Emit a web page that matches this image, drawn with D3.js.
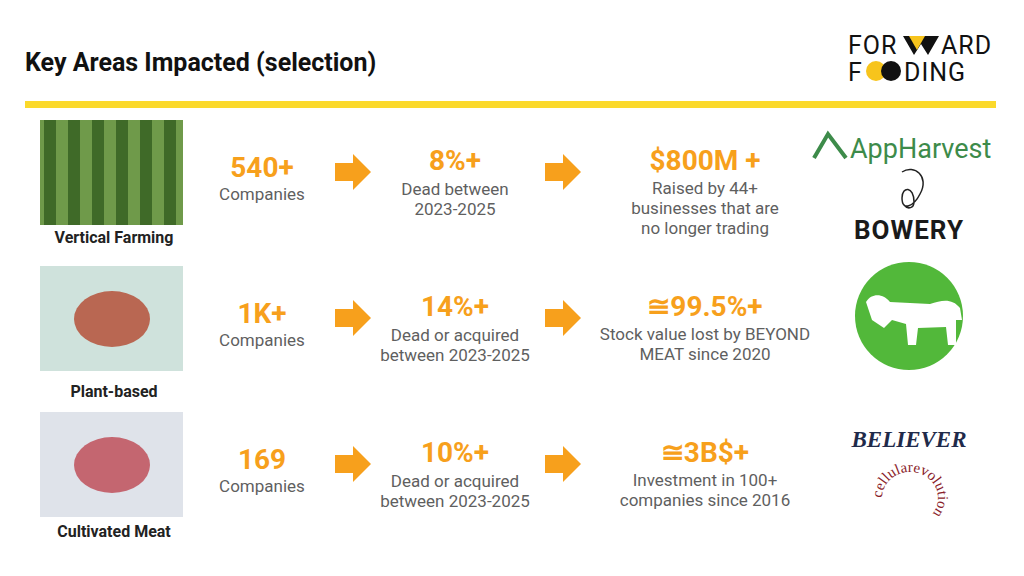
<!DOCTYPE html>
<html><head><meta charset="utf-8">
<script src="https://cdn.jsdelivr.net/npm/d3@7"></script>
<style>body{margin:0;background:#fff}svg{font-family:Roboto,"Noto Sans",sans-serif}</style>
</head><body>
<script>
var categories = ["Vertical Farming", "Plant-based", "Cultivated Meat"];
var columns = ["count", "dead", "impact"];
var companyCounts = ["540+", "1K+", "169"];
var deadShares = ["8%+", "14%+", "10%+"];
var deadLabels = [["Dead between", "2023-2025"], ["Dead or acquired", "between 2023-2025"], ["Dead or acquired", "between 2023-2025"]];
var impactValues = ["$800M +", "≅99.5%+", "≅3B$+"];
var impactLabels = [["Raised by 44+", "businesses that are", "no longer trading"], ["Stock value lost by BEYOND", "MEAT since 2020"], ["Investment in 100+", "companies since 2016"]];
var photoColors = [["#6f9a4a", "#3f6a28"], ["#cfe2dc", "#b5513a"], ["#dfe3ea", "#c0505a"]];

var orange = "#f7a01c", gray = "#5f5f5f";
var svg = d3.select("body").append("svg").attr("width", 1024).attr("height", 576);

svg.append("text").attr("x", 25).attr("y", 71).attr("font-size", 25).attr("font-weight", 700).attr("fill", "#111").text("Key Areas Impacted (selection)");
svg.append("rect").attr("x", 25).attr("y", 101).attr("width", 971).attr("height", 7).attr("fill", "#fbd92b");

// Forward Fooding logo
var logo = svg.append("g").attr("font-size", 25).attr("fill", "#111").attr("letter-spacing", 1);
logo.append("text").attr("x", 848).attr("y", 54).text("FOR");
logo.append("path").attr("d", "M903,36 L939,36 L928,55 L921,44 L914,55 Z").attr("fill", "#111");
logo.append("path").attr("d", "M909,36 L925,36 L917,50 Z").attr("fill", "#f7c41c");
logo.append("text").attr("x", 941).attr("y", 54).text("ARD");
logo.append("text").attr("x", 848).attr("y", 81).text("F");
logo.append("circle").attr("cx", 876).attr("cy", 71).attr("r", 10).attr("fill", "#f7c41c");
logo.append("circle").attr("cx", 891).attr("cy", 71).attr("r", 10).attr("fill", "#111");
logo.append("text").attr("x", 904).attr("y", 81).text("DING");

var y = d3.scalePoint().domain(categories).range([178, 470]);
var x = d3.scaleOrdinal().domain(columns).range([262, 455, 705]);

var rows = svg.selectAll("g.row").data(categories).enter().append("g").attr("class", "row")
  .attr("transform", function(d) { return "translate(0," + y(d) + ")"; });

rows.append("rect").attr("x", 40).attr("y", -58).attr("width", 143).attr("height", 105)
  .attr("fill", function(d, i) { return photoColors[i][0]; });
rows.filter(function(d, i) { return i === 0; }).selectAll("rect.stripe").data(d3.range(6)).enter().append("rect")
  .attr("x", function(k) { return 44 + k * 24; }).attr("y", -58).attr("width", 12).attr("height", 105).attr("fill", "#3f6a28");
rows.filter(function(d, i) { return i > 0; }).append("ellipse").attr("cx", 112).attr("cy", -5).attr("rx", 38).attr("ry", 28)
  .attr("fill", function(d, i) { return photoColors[i + 1][1]; }).attr("opacity", 0.85);
rows.append("text").attr("x", 114).attr("y", function(d, i) { return [65, 73, 67][i]; })
  .attr("text-anchor", "middle").attr("font-size", 16).attr("font-weight", 700).attr("fill", "#222").text(function(d) { return d; });

function bigNum(sel, col, vals, yb) {
  sel.append("text").attr("x", x(col)).attr("y", yb).attr("text-anchor", "middle")
    .attr("font-size", 28).attr("font-weight", 700).attr("fill", orange).text(function(d, i) { return vals[i]; });
}
function lines(sel, col, vals, y0) {
  sel.each(function(d, i) {
    d3.select(this).selectAll("text.l" + col).data(vals[i]).enter().append("text")
      .attr("x", x(col)).attr("y", function(t, j) { return y0 + j * 20; })
      .attr("text-anchor", "middle").attr("font-size", 17).attr("fill", gray).text(function(t) { return t; });
  });
}
bigNum(rows, "count", companyCounts, -1);
lines(rows, "count", [["Companies"], ["Companies"], ["Companies"]], 22);
bigNum(rows, "dead", deadShares, -8);
lines(rows, "dead", deadLabels, 17);
bigNum(rows, "impact", impactValues, -8);
lines(rows, "impact", impactLabels, 16);

[352, 562].forEach(function(ax) {
  rows.append("path").attr("fill", orange)
    .attr("d", "M" + (ax - 17) + ",-15 h18 v-9 l18,18 l-18,18 v-9 h-18 Z");
});

// company logos
svg.append("path").attr("d", "M814,158 L828,134 L846,158").attr("fill", "none").attr("stroke", "#3d8b4a").attr("stroke-width", 4);
svg.append("text").attr("x", 850).attr("y", 158).attr("font-size", 27).attr("fill", "#3d8b4a").text("AppHarvest");
svg.append("path").attr("d", "M902,172 C914,164 930,176 920,194 C914,206 902,212 902,198 C902,186 914,186 914,202 C914,208 908,210 904,205").attr("fill", "none").attr("stroke", "#222").attr("stroke-width", 1.5);
svg.append("text").attr("x", 909).attr("y", 239).attr("text-anchor", "middle").attr("font-size", 26).attr("font-weight", 700).attr("fill", "#1a1a1a").attr("letter-spacing", 1).text("BOWERY");
svg.append("circle").attr("cx", 909).attr("cy", 316).attr("r", 54).attr("fill", "#52b83a");
svg.append("path").attr("fill", "#fff")
  .attr("d", "M866,302 C872,292 884,294 890,302 L930,304 C942,300 952,298 960,308 L962,320 L956,320 L956,345 L948,345 L946,327 L918,328 L916,345 L908,345 L906,324 L892,320 L884,328 L872,320 Z");
svg.append("text").attr("x", 909).attr("y", 447).attr("text-anchor", "middle").attr("font-size", 23).attr("font-weight", 900).attr("font-style", "italic").attr("fill", "#1f2a4a").attr("font-family", "Liberation Serif, serif").text("BELIEVER");
var arc = svg.append("g");
arc.append("path").attr("id", "crc").attr("d", "M882,498 a28,26 0 1,1 56,0 a28,26 0 1,1 -56,0").attr("fill", "none");
arc.append("text").attr("font-size", 15).attr("fill", "#8a1c2a").attr("font-family", "Liberation Serif, serif")
  .append("textPath").attr("href", "#crc").attr("startOffset", "0%").text("cellularevolution");
</script>
</body></html>
